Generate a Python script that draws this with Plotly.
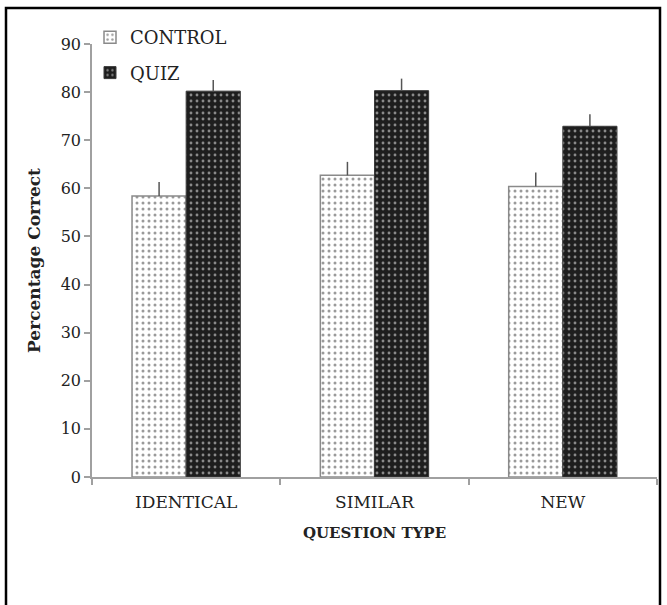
import plotly.graph_objects as go

categories = ["IDENTICAL", "SIMILAR", "NEW"]
control_vals = [58.4, 62.7, 60.4]
control_err = [2.9, 2.8, 2.9]
quiz_vals = [80.2, 80.3, 72.9]
quiz_err = [2.3, 2.5, 2.5]
y_ticks = [0, 10, 20, 30, 40, 50, 60, 70, 80, 90]

FONT = "DejaVu Serif"
TXT = "#222222"

fig = go.Figure()
fig.add_trace(go.Bar(
    name="CONTROL", x=categories, y=control_vals, legendgroup="a",
    marker=dict(color="white", line=dict(color="#8a8a8a", width=1.5),
                pattern=dict(shape=".", fgcolor="#9a9a9a", bgcolor="white",
                             size=6, solidity=0.2, fillmode="replace")),
    error_y=dict(type="data", symmetric=False, array=control_err,
                 arrayminus=[0, 0, 0], color="#555555", thickness=1.5, width=0),
))
fig.add_trace(go.Bar(
    name="QUIZ", x=categories, y=quiz_vals, legendgroup="b",
    marker=dict(color="#222222", line=dict(color="#3a3a3a", width=1),
                pattern=dict(shape=".", fgcolor="#8a8a8a", bgcolor="#1e1e1e",
                             size=6, solidity=0.18, fillmode="replace")),
    error_y=dict(type="data", symmetric=False, array=quiz_err,
                 arrayminus=[0, 0, 0], color="#555555", thickness=1.5, width=0),
))

L, R, T, B = 92, 10, 44, 128
W, H = 667, 605
pw, ph = W - L - R, H - T - B

def px_x(x):
    return (x - L) / pw

def px_y(y):
    return (H - B - y) / ph

fig.update_layout(
    width=W, height=H,
    margin=dict(l=L, r=R, t=T, b=B),
    paper_bgcolor="white", plot_bgcolor="white",
    barmode="group", bargap=0.425, bargroupgap=0,
    font=dict(family=FONT, size=17, color=TXT),
    showlegend=True,
    legend=dict(x=px_x(90), y=px_y(19), xanchor="left", yanchor="top",
                bgcolor="rgba(0,0,0,0)", tracegroupgap=9,
                font=dict(family=FONT, size=18, color=TXT),
                itemwidth=30),
    xaxis=dict(showline=True, linecolor="#a0a0a0", linewidth=1.5,
               ticks="outside", tickson="boundaries", ticklen=6,
               tickcolor="#a0a0a0", tickwidth=1.5, ticklabelstandoff=9,
               tickfont=dict(family=FONT, size=17, color=TXT),
               title=dict(text="<b>QUESTION TYPE</b>", standoff=16,
                          font=dict(family=FONT, size=15, color=TXT))),
    yaxis=dict(range=[0, 90], tickvals=y_ticks, showgrid=False, zeroline=False,
               showline=True, linecolor="#a0a0a0", linewidth=1.5,
               ticks="outside", ticklen=6, tickcolor="#a0a0a0", tickwidth=1.5,
               tickfont=dict(family=FONT, size=16, color=TXT),
               title=dict(text="<b>Percentage Correct</b>", standoff=16,
                          font=dict(family=FONT, size=17, color=TXT))),
    shapes=[dict(type="rect", xref="paper", yref="paper",
                 x0=px_x(6), x1=px_x(660), y0=px_y(640), y1=px_y(8),
                 line=dict(color="black", width=2.5), fillcolor="rgba(0,0,0,0)",
                 layer="above")],
)

fig.write_html("out.html", config={"displayModeBar": False},
               post_script="document.body.style.margin='0';")
